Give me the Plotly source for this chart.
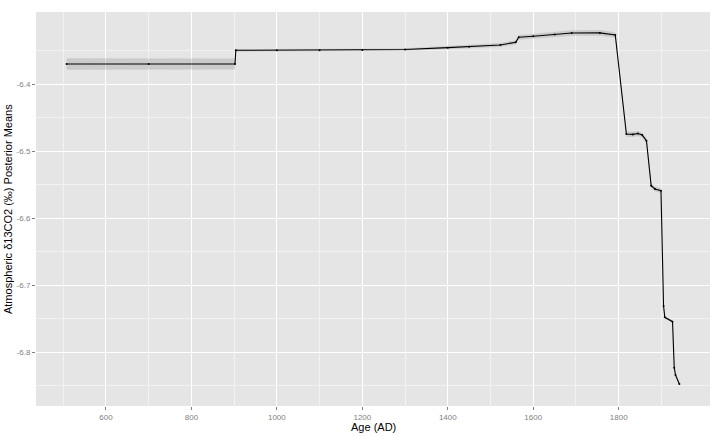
import plotly.graph_objects as go

# Data
age = [508, 700, 902,
       904, 1000, 1100, 1200, 1300, 1400, 1450, 1523, 1559, 1566,
       1600, 1650, 1690, 1756, 1792,
       1818, 1833, 1845, 1855, 1865, 1876, 1885, 1899,
       1905, 1908, 1926, 1930, 1933, 1942]
mean = [-6.3694, -6.3694, -6.3694,
        -6.3490, -6.3489, -6.3488, -6.3485, -6.3478, -6.3450, -6.3435, -6.3410, -6.3370, -6.3296,
        -6.3280, -6.3255, -6.3232, -6.3230, -6.3262,
        -6.4740, -6.4745, -6.4732, -6.4755, -6.4840, -6.5510, -6.5560, -6.5585,
        -6.7306, -6.7475, -6.7540, -6.8227, -6.8336, -6.8470]
half_width = [0.0085, 0.0085, 0.0082,
              0.0020, 0.0018, 0.0018, 0.0018, 0.0020, 0.0025, 0.0028, 0.0030, 0.0032, 0.0035,
              0.0038, 0.0040, 0.0042, 0.0042, 0.0040,
              0.0040, 0.0038, 0.0038, 0.0040, 0.0042, 0.0040, 0.0038, 0.0035,
              0.0020, 0.0020, 0.0020, 0.0020, 0.0020, 0.0020]

x_ticks = [600, 800, 1000, 1200, 1400, 1600, 1800]
x_minor = [500, 700, 900, 1100, 1300, 1500, 1700, 1900]
y_ticks = [-6.4, -6.5, -6.6, -6.7, -6.8]
y_tick_labels = ["-6.4", "-6.5", "-6.6", "-6.7", "-6.8"]
y_minor = [-6.35, -6.45, -6.55, -6.65, -6.75, -6.85]

upper = [m + h for m, h in zip(mean, half_width)]
lower = [m - h for m, h in zip(mean, half_width)]

fig = go.Figure()
fig.add_trace(go.Scatter(x=age, y=upper, mode="lines", line=dict(width=0),
                         hoverinfo="skip", showlegend=False))
fig.add_trace(go.Scatter(x=age, y=lower, mode="lines", line=dict(width=0),
                         fill="tonexty", fillcolor="rgba(51,51,51,0.14)",
                         hoverinfo="skip", showlegend=False))
fig.add_trace(go.Scatter(x=age, y=mean, mode="lines+markers",
                         line=dict(color="black", width=1.1),
                         marker=dict(color="black", size=2),
                         showlegend=False))

axis_common = dict(
    showgrid=True, gridcolor="white", gridwidth=1.2,
    zeroline=False, showline=False,
    ticks="outside", ticklen=3, tickcolor="#7F7F7F", tickwidth=1,
    tickfont=dict(family="Liberation Sans, Arial, sans-serif", size=8, color="#7F7F7F"),
)

fig.update_layout(
    width=716, height=436,
    margin=dict(l=36, r=6, t=12, b=30),
    paper_bgcolor="white", plot_bgcolor="#E5E5E5",
    xaxis=dict(range=[436.3, 2013.7], tickvals=x_ticks,
               ticktext=[str(v) for v in x_ticks],
               minor=dict(tickvals=x_minor, showgrid=True, gridcolor="#F2F2F2",
                          gridwidth=0.6, ticks=""),
               **axis_common),
    yaxis=dict(range=[-6.8799, -6.2918], tickvals=y_ticks, ticktext=y_tick_labels,
               minor=dict(tickvals=y_minor, showgrid=True, gridcolor="#F2F2F2",
                          gridwidth=0.6, ticks=""),
               **axis_common),
    font=dict(family="Liberation Sans, Arial, sans-serif"),
    annotations=[
        dict(text="Age (AD)", xref="paper", yref="paper", x=0.5, y=-0.0533,
             xanchor="center", yanchor="middle", showarrow=False,
             font=dict(size=11, color="black")),
        dict(text="Atmospheric δ13CO2 (‰) Posterior Means", xref="paper", yref="paper",
             x=-0.0415, y=0.5, textangle=-90, xanchor="center", yanchor="middle",
             showarrow=False, font=dict(size=11, color="black")),
    ],
)

fig.write_html("out.html", config={"displayModeBar": False},
               post_script="document.body.style.margin='0';document.body.style.overflow='hidden';")
